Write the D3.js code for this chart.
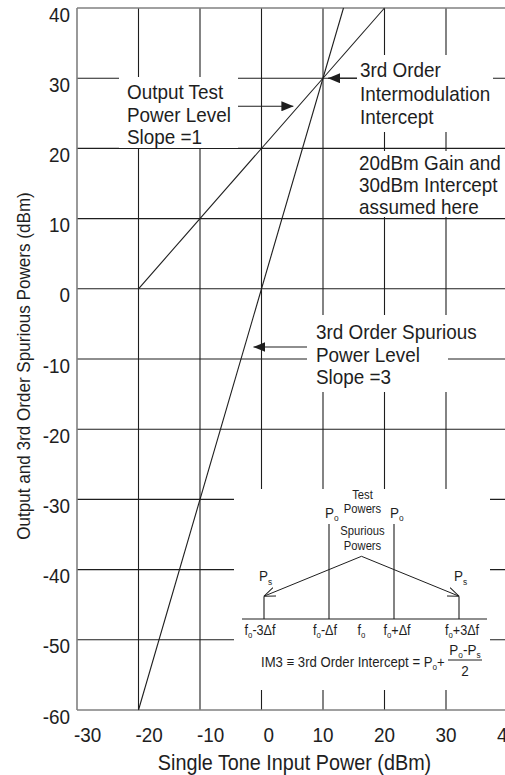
<!DOCTYPE html>
<html><head><meta charset="utf-8">
<script src="https://cdn.jsdelivr.net/npm/d3@7"></script>
<style>
html,body{margin:0;padding:0;background:#fff;}
svg{display:block;font-family:"Liberation Sans",Arial,Helvetica,sans-serif;}
</style></head>
<body>
<svg id="chart" width="505" height="775"></svg>
<script>
// ---------- data ----------
const xTicks = [-30, -20, -10, 0, 10, 20, 30, 40];
const yTicks = [40, 30, 20, 10, 0, -10, -20, -30, -40, -50, -60];
const xGrid = [-20, -10, 0, 10, 20, 30];
const yGrid = [30, 20, 10, 0, -10, -20, -30, -40, -50];
const outputLine = [[-20, 0], [20, 40]];        // slope = 1
const spuriousLine = [[-20, -60], [13.33, 40]]; // slope = 3
const intercept = [10, 30];
const outputArrowAt = 26;      // y-value where "Output Test" arrow points
const spuriousArrowAt = -8.3;  // y-value where "Spurious" arrow points

const note1 = ["Output Test", "Power Level", "Slope =1"];
const note2 = ["3rd Order", "Intermodulation", "Intercept"];
const note3 = ["20dBm Gain and", "30dBm Intercept", "assumed here"];
const note4 = ["3rd Order Spurious", "Power Level", "Slope =3"];

// inset spectrum
const insetOffsets = [-3, -1, 0, 1, 3];
const insetLevels = [0.24, 1, null, 1, 0.24];     // Ps, Po, -, Po, Ps
const insetLevelNames = ["s", "o", null, "o", "s"];
const insetLabels = [["f","o","-3Δf"], ["f","o","-Δf"], ["f","o",""], ["f","o","+Δf"], ["f","o","+3Δf"]];
const apexLevel = 0.66;

const xLabel = "Single Tone Input Power (dBm)";
const yLabel = "Output and 3rd Order Spurious Powers (dBm)";

// ---------- setup ----------
const svg = d3.select("#chart");
const INK = "#1e1e1e", AXIS = "#808080", SX = 0.9;
const x = d3.scaleLinear().domain([-30, 40]).range([77, 507.5]);
const y = d3.scaleLinear().domain([-60, 40]).range([710, 8]);

function txt(g, px, py, str, size, anchor, rot) {
  return g.append("text")
    .attr("transform", `translate(${px},${py})` + (rot ? ` rotate(${rot})` : "") + ` scale(${SX},1)`)
    .attr("font-size", size).attr("fill", INK)
    .attr("text-anchor", anchor || "start").text(str);
}
function subTxt(g, px, py, parts, size, anchor) {
  const t = g.append("text")
    .attr("transform", `translate(${px},${py}) scale(${SX},1)`)
    .attr("font-size", size).attr("fill", INK).attr("text-anchor", anchor || "start");
  parts.forEach((p, i) => {
    if (p === "") return;
    const isSub = i % 2 === 1;
    const ts = t.append("tspan").text(p);
    if (isSub) ts.attr("font-size", size * 0.62).attr("dy", size * 0.22);
    else if (i > 0) ts.attr("dy", -size * 0.22);
  });
  return t;
}

const defs = svg.append("defs");
defs.append("marker").attr("id", "fill").attr("viewBox", "0 0 12 10")
  .attr("refX", 12).attr("refY", 5).attr("markerWidth", 12).attr("markerHeight", 10)
  .attr("markerUnits", "userSpaceOnUse").attr("orient", "auto")
  .append("path").attr("d", "M0,0 L12,5 L0,10 Z").attr("fill", INK);
defs.append("marker").attr("id", "open").attr("viewBox", "0 0 12 10")
  .attr("refX", 11.5).attr("refY", 5).attr("markerWidth", 12).attr("markerHeight", 10)
  .attr("markerUnits", "userSpaceOnUse").attr("orient", "auto")
  .append("path").attr("d", "M0,0.5 L11.5,5 L0,9.5").attr("fill", "none").attr("stroke", INK).attr("stroke-width", 1);

// ---------- grid ----------
const grid = svg.append("g");
grid.selectAll(".vg").data(xGrid).join("line")
  .attr("x1", d => x(d)).attr("x2", d => x(d)).attr("y1", y(40)).attr("y2", y(-60))
  .attr("stroke", INK).attr("stroke-width", 1.1);
grid.selectAll(".hg").data(yGrid).join("line")
  .attr("x1", x(-30)).attr("x2", x(40)).attr("y1", d => y(d)).attr("y2", d => y(d))
  .attr("stroke", INK).attr("stroke-width", 1.1);

// knock-out boxes (white behind annotations)
const boxes = [
  [119, 77, 238, 148],
  [357, 55, 493, 132],
  [355, 151, 505, 217],
  [307, 315, 448, 392],
  [234, 489, 490, 690]
];
svg.append("g").selectAll("rect").data(boxes).join("rect")
  .attr("x", d => d[0]).attr("y", d => d[1]).attr("width", d => d[2] - d[0]).attr("height", d => d[3] - d[1])
  .attr("fill", "#fff");

// frame (axes)
const frame = svg.append("g").attr("stroke", AXIS).attr("stroke-width", 1.6).attr("fill", "none");
frame.append("line").attr("x1", x(-30)).attr("x2", x(-30)).attr("y1", y(40)).attr("y2", y(-60));
frame.append("line").attr("x1", x(-30)).attr("x2", x(40)).attr("y1", y(-60)).attr("y2", y(-60));
frame.append("line").attr("x1", x(-30)).attr("x2", x(40)).attr("y1", y(40)).attr("y2", y(40));

// ---------- data lines ----------
const line = d3.line().x(d => x(d[0])).y(d => y(d[1]));
svg.append("path").attr("d", line(outputLine)).attr("fill", "none").attr("stroke", INK).attr("stroke-width", 1.1);
svg.append("path").attr("d", line(spuriousLine)).attr("fill", "none").attr("stroke", INK).attr("stroke-width", 1.1);

// ---------- tick labels ----------
const tl = svg.append("g");
yTicks.forEach(v => txt(tl, 70, y(v) + 13.5, String(v), 21, "end"));
xTicks.forEach(v => {
  if (v < 0) txt(tl, x(v) - 3, 742, String(v), 21, "start");
  else if (v === 0) txt(tl, x(v) + 2, 742, String(v), 21, "start");
  else txt(tl, x(v), 742, String(v), 21, "middle");
});

// axis titles
txt(svg, 294.5, 770, xLabel, 22, "middle");
txt(svg, 30, 366, yLabel, 19, "middle", -90);

// ---------- annotations ----------
const an = svg.append("g");
note1.forEach((s, i) => txt(an, 127, 99 + i * 22.5, s, 21));
note2.forEach((s, i) => txt(an, 360, 77 + i * 23.5, s, 21));
note3.forEach((s, i) => txt(an, 359, 170 + i * 22, s, 21));
note4.forEach((s, i) => txt(an, 316, 339 + i * 22.7, s, 21));

// arrows
const yOut = y(outputArrowAt);
an.append("line").attr("x1", 238).attr("x2", x(outputArrowAt - 20) - 5).attr("y1", yOut).attr("y2", yOut)
  .attr("stroke", INK).attr("stroke-width", 1.1).attr("marker-end", "url(#fill)");
an.append("line").attr("x1", 357).attr("x2", x(intercept[0]) + 5).attr("y1", y(intercept[1])).attr("y2", y(intercept[1]))
  .attr("stroke", INK).attr("stroke-width", 1.1).attr("marker-end", "url(#fill)");
const ySp = y(spuriousArrowAt);
an.append("line").attr("x1", 307).attr("x2", x(spuriousArrowAt / 3) + 9).attr("y1", ySp).attr("y2", ySp)
  .attr("stroke", INK).attr("stroke-width", 1.1).attr("marker-end", "url(#fill)");

// ---------- inset ----------
const ins = svg.append("g");
const fx = d3.scaleLinear().domain([-3, 3]).range([264, 459]);
const py = d3.scaleLinear().domain([0, 1]).range([619, 524]);
ins.append("line").attr("x1", 242).attr("x2", 487).attr("y1", py(0)).attr("y2", py(0))
  .attr("stroke", INK).attr("stroke-width", 1.1);
insetOffsets.forEach((o, i) => {
  const lv = insetLevels[i];
  if (lv !== null) {
    ins.append("line").attr("x1", fx(o)).attr("x2", fx(o)).attr("y1", py(0)).attr("y2", py(lv))
      .attr("stroke", INK).attr("stroke-width", 1.1);
    const isPo = insetLevelNames[i] === "o";
    subTxt(ins, fx(o) - (isPo ? 4 : 5), py(lv) - (isPo ? 6 : 15), ["P", insetLevelNames[i]], 15);
  }
  subTxt(ins, fx(o) + (o === 0 ? 0 : o < 0 ? -4 : 3), 635, insetLabels[i], 14, "middle");
});
// spurious arrows
insetOffsets.forEach((o, i) => {
  if (Math.abs(o) === 3) {
    ins.append("line").attr("x1", fx(0)).attr("y1", py(apexLevel)).attr("x2", fx(o)).attr("y2", py(insetLevels[i]))
      .attr("stroke", INK).attr("stroke-width", 1).attr("marker-end", "url(#open)");
  }
});
txt(ins, fx(0) + 1, 499, "Test", 12.5, "middle");
txt(ins, fx(0) + 1, 512.5, "Powers", 12.5, "middle");
txt(ins, fx(0) + 1, 535, "Spurious", 12.5, "middle");
txt(ins, fx(0) + 1, 549.5, "Powers", 12.5, "middle");

// formula
subTxt(ins, 261, 667, ["IM3 ≡ 3rd Order Intercept = P", "o", "+"], 14.6);
subTxt(ins, 465, 655, ["P", "o", "-P", "s"], 15, "middle");
ins.append("line").attr("x1", 448).attr("x2", 482).attr("y1", 660).attr("y2", 660).attr("stroke", INK).attr("stroke-width", 1);
txt(ins, 465, 676, "2", 15, "middle");
</script>
</body></html>
